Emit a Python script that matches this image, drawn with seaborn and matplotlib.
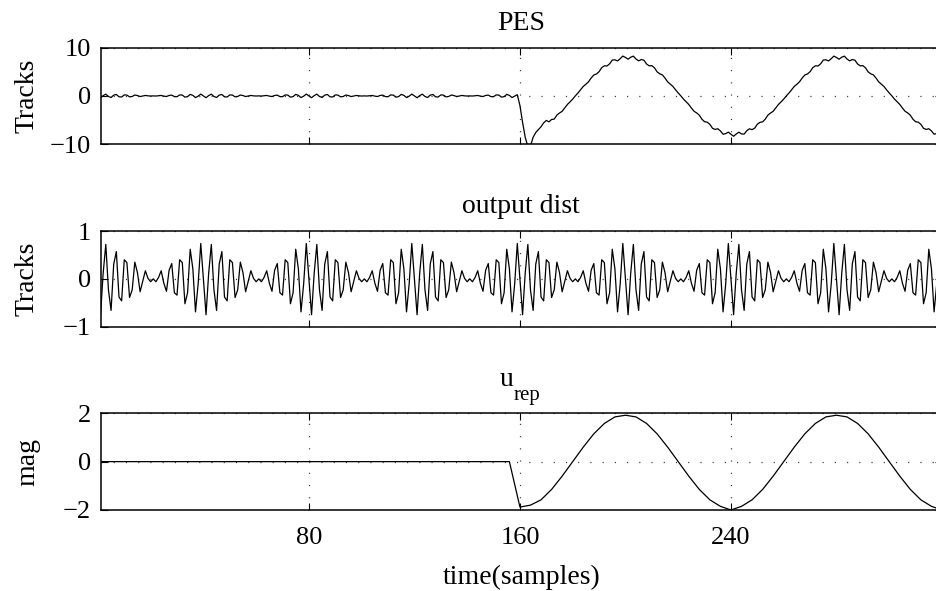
import numpy as np
import pandas as pd
import seaborn as sns
import matplotlib.pyplot as plt

# sample axis (MATLAB style, 1..320)
samples = np.arange(1, 321)

# PES: small ripple before the repetitive controller kicks in (samples 1-157)
pes_quiet = [
    -0.38, 0.06, 0.36, -0.12, -0.33, 0.16, 0.29, -0.19, -0.23, 0.20,
    0.17, -0.20, -0.12, 0.18, 0.07, -0.14, -0.03, 0.09, 0.01, -0.03,
    0.00, -0.03, 0.02, 0.09, -0.05, -0.13, 0.09, 0.16, -0.15, -0.17,
    0.20, 0.17, -0.26, -0.15, 0.31, 0.11, -0.35, -0.06, 0.37, 0.00,
    -0.38, 0.06, 0.36, -0.12, -0.33, 0.16, 0.29, -0.19, -0.23, 0.20,
    0.17, -0.20, -0.12, 0.18, 0.07, -0.14, -0.03, 0.09, 0.01, -0.03,
    0.00, -0.03, 0.02, 0.09, -0.05, -0.13, 0.09, 0.16, -0.15, -0.17,
    0.20, 0.17, -0.26, -0.15, 0.31, 0.11, -0.35, -0.06, 0.37, 0.00,
    -0.38, 0.06, 0.36, -0.12, -0.33, 0.16, 0.29, -0.19, -0.23, 0.20,
    0.17, -0.20, -0.12, 0.18, 0.07, -0.14, -0.03, 0.09, 0.01, -0.03,
    0.00, -0.03, 0.02, 0.09, -0.05, -0.13, 0.09, 0.16, -0.15, -0.17,
    0.20, 0.17, -0.26, -0.15, 0.31, 0.11, -0.35, -0.06, 0.37, 0.00,
    -0.38, 0.06, 0.36, -0.12, -0.33, 0.16, 0.29, -0.19, -0.23, 0.20,
    0.17, -0.20, -0.12, 0.18, 0.07, -0.14, -0.03, 0.09, 0.01, -0.03,
    0.00, -0.03, 0.02, 0.09, -0.05, -0.13, 0.09, 0.16, -0.15, -0.17,
    0.20, 0.17, -0.26, -0.15, 0.31, 0.11, -0.35,
]
# samples 158-172: the drop
pes_step = [-0.06, 0.25, -2.0, -5.5, -8.6, -10.5, -10.4, -8.6, -7.6, -7.0,
            -6.4, -5.6, -5.1, -5.4, -4.9]
# samples 173-320: tracking the repeated sinusoid
pes_track = [
    -4.82, -4.00, -3.56, -3.20, -2.50, -1.78, -1.24, -0.66, 0.00, 0.60,
    1.27, 1.96, 2.42, 2.93, 3.72, 4.34, 4.55, 5.03, 5.86, 6.25,
    6.21, 6.67, 7.44, 7.50, 7.26, 7.72, 8.27, 7.98, 7.62, 8.04,
    8.26, 7.66, 7.28, 7.55, 7.42, 6.63, 6.24, 6.28, 5.83, 5.00,
    4.58, 4.36, 3.70, 2.92, 2.44, 1.96, 1.26, 0.60, 0.00, -0.66,
    -1.23, -1.78, -2.52, -3.19, -3.54, -4.02, -4.85, -5.37, -5.46, -5.91,
    -6.73, -6.97, -6.82, -7.28, -7.96, -7.84, -7.53, -7.98, -8.38, -7.92,
    -7.54, -7.90, -7.94, -7.23, -6.84, -7.01, -6.70, -5.88, -5.49, -5.40,
    -4.82, -4.00, -3.56, -3.20, -2.50, -1.78, -1.24, -0.66, 0.00, 0.60,
    1.27, 1.96, 2.42, 2.93, 3.72, 4.34, 4.55, 5.03, 5.86, 6.25,
    6.21, 6.67, 7.44, 7.50, 7.26, 7.72, 8.27, 7.98, 7.62, 8.04,
    8.26, 7.66, 7.28, 7.55, 7.42, 6.63, 6.24, 6.28, 5.83, 5.00,
    4.58, 4.36, 3.70, 2.92, 2.44, 1.96, 1.26, 0.60, 0.00, -0.66,
    -1.23, -1.78, -2.52, -3.19, -3.54, -4.02, -4.85, -5.37, -5.46, -5.91,
    -6.73, -6.97, -6.82, -7.28, -7.96, -7.84, -7.53, -7.98,
]
pes = pes_quiet + pes_step + pes_track

# output disturbance (beating signal), samples 1-320
dist = [
    -0.75, 0.12, 0.72, -0.23, -0.66, 0.31, 0.57, -0.38, -0.46, 0.40,
    0.34, -0.39, -0.23, 0.35, 0.13, -0.27, -0.05, 0.17, 0.01, -0.06,
    0.00, -0.06, 0.03, 0.17, -0.09, -0.26, 0.18, 0.32, -0.29, -0.34,
    0.40, 0.34, -0.52, -0.29, 0.62, 0.21, -0.69, -0.11, 0.74, 0.00,
    -0.75, 0.12, 0.72, -0.23, -0.66, 0.31, 0.57, -0.38, -0.46, 0.40,
    0.34, -0.39, -0.23, 0.35, 0.13, -0.27, -0.05, 0.17, 0.01, -0.06,
    0.00, -0.06, 0.03, 0.17, -0.09, -0.26, 0.18, 0.32, -0.29, -0.34,
    0.40, 0.34, -0.52, -0.29, 0.62, 0.21, -0.69, -0.11, 0.74, 0.00,
    -0.75, 0.12, 0.72, -0.23, -0.66, 0.31, 0.57, -0.38, -0.46, 0.40,
    0.34, -0.39, -0.23, 0.35, 0.13, -0.27, -0.05, 0.17, 0.01, -0.06,
    0.00, -0.06, 0.03, 0.17, -0.09, -0.26, 0.18, 0.32, -0.29, -0.34,
    0.40, 0.34, -0.52, -0.29, 0.62, 0.21, -0.69, -0.11, 0.74, 0.00,
    -0.75, 0.12, 0.72, -0.23, -0.66, 0.31, 0.57, -0.38, -0.46, 0.40,
    0.34, -0.39, -0.23, 0.35, 0.13, -0.27, -0.05, 0.17, 0.01, -0.06,
    0.00, -0.06, 0.03, 0.17, -0.09, -0.26, 0.18, 0.32, -0.29, -0.34,
    0.40, 0.34, -0.52, -0.29, 0.62, 0.21, -0.69, -0.11, 0.74, 0.00,
    -0.75, 0.12, 0.72, -0.23, -0.66, 0.31, 0.57, -0.38, -0.46, 0.40,
    0.34, -0.39, -0.23, 0.35, 0.13, -0.27, -0.05, 0.17, 0.01, -0.06,
    0.00, -0.06, 0.03, 0.17, -0.09, -0.26, 0.18, 0.32, -0.29, -0.34,
    0.40, 0.34, -0.52, -0.29, 0.62, 0.21, -0.69, -0.11, 0.74, 0.00,
    -0.75, 0.12, 0.72, -0.23, -0.66, 0.31, 0.57, -0.38, -0.46, 0.40,
    0.34, -0.39, -0.23, 0.35, 0.13, -0.27, -0.05, 0.17, 0.01, -0.06,
    0.00, -0.06, 0.03, 0.17, -0.09, -0.26, 0.18, 0.32, -0.29, -0.34,
    0.40, 0.34, -0.52, -0.29, 0.62, 0.21, -0.69, -0.11, 0.74, 0.00,
    -0.75, 0.12, 0.72, -0.23, -0.66, 0.31, 0.57, -0.38, -0.46, 0.40,
    0.34, -0.39, -0.23, 0.35, 0.13, -0.27, -0.05, 0.17, 0.01, -0.06,
    0.00, -0.06, 0.03, 0.17, -0.09, -0.26, 0.18, 0.32, -0.29, -0.34,
    0.40, 0.34, -0.52, -0.29, 0.62, 0.21, -0.69, -0.11, 0.74, 0.00,
    -0.75, 0.12, 0.72, -0.23, -0.66, 0.31, 0.57, -0.38, -0.46, 0.40,
    0.34, -0.39, -0.23, 0.35, 0.13, -0.27, -0.05, 0.17, 0.01, -0.06,
    0.00, -0.06, 0.03, 0.17, -0.09, -0.26, 0.18, 0.32, -0.29, -0.34,
    0.40, 0.34, -0.52, -0.29, 0.62, 0.21, -0.69, -0.11, 0.74, 0.00,
]

# repetitive control signal, stored every 4th sample (0..320)
urep_t = np.arange(0, 324, 4)
urep = [
    0.0, 0.0, 0.0, 0.0, 0.0, 0.0, 0.0, 0.0, 0.0, 0.0,
    0.0, 0.0, 0.0, 0.0, 0.0, 0.0, 0.0, 0.0, 0.0, 0.0,
    0.0, 0.0, 0.0, 0.0, 0.0, 0.0, 0.0, 0.0, 0.0, 0.0,
    0.0, 0.0, 0.0, 0.0, 0.0, 0.0, 0.0, 0.0, 0.0, 0.0,
    -1.88, -1.80, -1.58, -1.15, -0.60, 0.00, 0.60, 1.15, 1.58, 1.85,
    1.92, 1.85, 1.58, 1.15, 0.60, 0.00, -0.60, -1.15, -1.58, -1.85,
    -2.00, -1.85, -1.58, -1.15, -0.60, 0.00, 0.60, 1.15, 1.58, 1.85,
    1.92, 1.85, 1.58, 1.15, 0.60, 0.00, -0.60, -1.15, -1.58, -1.85,
    -2.00,
]

xticks = [80, 160, 240]

sns.set_style("ticks")
plt.rcParams['font.family'] = ['Liberation Serif', 'DejaVu Serif']
plt.rcParams['text.color'] = 'black'
plt.rcParams['axes.labelcolor'] = 'black'
plt.rcParams['lines.scale_dashes'] = False

fig = plt.figure(figsize=(9.36, 5.91), dpi=100)
left, width = 0.1074, 0.899
ax1 = fig.add_axes([left, 0.7563, width, 0.1629])
ax2 = fig.add_axes([left, 0.4472, width, 0.1619])
ax3 = fig.add_axes([left, 0.1371, width, 0.1636])

panels = [
    (ax1, samples, pes, (-10, 10), [-10, 0, 10], 'PES', 'Tracks'),
    (ax2, samples, dist, (-1, 1), [-1, 0, 1], 'output dist', 'Tracks'),
    (ax3, urep_t, urep, (-2, 2), [-2, 0, 2], None, 'mag'),
]

for ax, xs, ys, ylim, yt, title, ylab in panels:
    sns.lineplot(x=xs, y=ys, ax=ax, color='black', linewidth=0.9, estimator=None)
    ax.set_xlim(1, 320)
    ax.set_ylim(*ylim)
    ax.set_yticks(yt)
    ax.set_xticks(xticks)
    ax.grid(True, color='0.2', linestyle=(0, (0.8, 8)), linewidth=0.9)
    for sp in ax.spines.values():
        sp.set_linewidth(1.1)
        sp.set_color('black')
    ax.tick_params(direction='in', length=5, width=0.8, top=True, right=True,
                   labelsize=19, colors='black')
    ax.tick_params(axis='y', pad=7)
    ax.tick_params(axis='x', pad=12)
    if title:
        ax.set_title(title, fontsize=20, pad=13)
    ax.set_ylabel(ylab, fontsize=20)
    ax.yaxis.set_label_coords(-0.072, 0.5)
    ax.set_facecolor('white')

# u_rep title with a deep subscript, as in the original
fig.text(500 / 936, 1 - 386 / 591, 'u', fontsize=20, va='baseline', ha='left')
fig.text(514 / 936, 1 - 400 / 591, 'rep', fontsize=15, va='baseline', ha='left')

ax1.set_xticklabels([])
ax2.set_xticklabels([])
ax3.set_xlabel('time(samples)', fontsize=20, labelpad=12)

fig.savefig('out.png', dpi=100, facecolor='white')
